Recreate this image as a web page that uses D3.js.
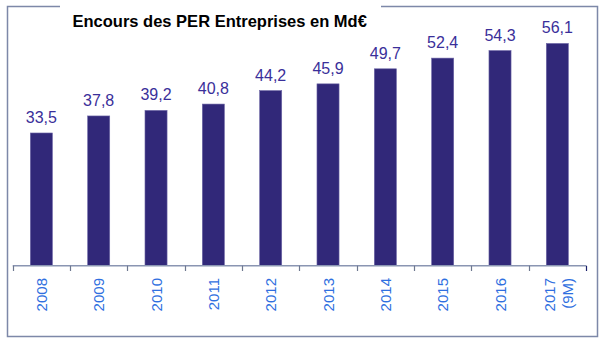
<!DOCTYPE html>
<html><head><meta charset="utf-8">
<script src="https://cdn.jsdelivr.net/npm/d3@7"></script>
<style>body{margin:0;background:#fff}svg{display:block;font-family:"Liberation Sans",Arial,sans-serif}</style>
</head><body>
<svg id="c" width="606" height="345"></svg>
<script>
const categories = ["2008","2009","2010","2011","2012","2013","2014","2015","2016","2017"];
const subLabels = ["","","","","","","","","","(9M)"];
const values = [33.5,37.8,39.2,40.8,44.2,45.9,49.7,52.4,54.3,56.1];
const valueLabels = ["33,5","37,8","39,2","40,8","44,2","45,9","49,7","52,4","54,3","56,1"];
const title = "Encours des PER Entreprises en Md€";

const svg = d3.select("#c");
const frame = {l:7.5, r:597.5, t:6.5, b:336.5};
const frameColor = "#7d88a8";
svg.append("path")
  .attr("d", `M60,${frame.t} H${frame.l} V${frame.b} H${frame.r} V${frame.t} H381`)
  .attr("fill","none").attr("stroke",frameColor).attr("stroke-width",1.5);

svg.append("text").attr("x",72.5).attr("y",27)
  .attr("font-size",16.5).attr("font-weight","bold").attr("fill","#000")
  .text(title);

const x = d3.scaleBand().domain(categories).range([12.7,586]).paddingInner(0.615).paddingOuter(0.3075);
const y = d3.scaleLinear().domain([0,60]).range([265.7, 28]);

svg.selectAll("rect.bar").data(values).enter().append("rect")
  .attr("class","bar")
  .attr("x",(d,i)=>x(categories[i]))
  .attr("width",x.bandwidth())
  .attr("y",d=>y(d))
  .attr("height",d=>y(0)-y(d))
  .attr("fill","#312879")
  .attr("stroke","#6d66a6").attr("stroke-width",0.6);

svg.selectAll("text.val").data(values).enter().append("text")
  .attr("class","val")
  .attr("x",(d,i)=>x(categories[i])+x.bandwidth()/2)
  .attr("y",d=>y(d)-10)
  .attr("text-anchor","middle")
  .attr("font-size",16).attr("fill","#3a2f9a")
  .text((d,i)=>valueLabels[i]);

const band = d3.scalePoint().domain(d3.range(categories.length+1)).range([12.7,586]);
const ax = svg.append("g");
ax.append("line").attr("x1",12.7).attr("x2",586).attr("y1",265.7).attr("y2",265.7)
  .attr("stroke","#8a95b2").attr("stroke-width",1.5);
ax.selectAll("line.tk").data(band.domain()).enter().append("line")
  .attr("class","tk")
  .attr("x1",d=>Math.round(band(d))+0.5).attr("x2",d=>Math.round(band(d))+0.5)
  .attr("y1",265.7).attr("y2",271)
  .attr("stroke",(d,i)=> i===categories.length ? "#1a1f6a" : "#6e7890").attr("stroke-width",1.2);

categories.forEach((c,i)=>{
  const cx = x(c)+x.bandwidth()/2;
  const g = svg.append("g");
  const lab = (dx, t) => g.append("text").attr("transform",`translate(${cx+dx},278) rotate(-90)`)
      .attr("text-anchor","end").attr("font-size",15).attr("fill","#2f6fe0").text(t);
  if(subLabels[i]){
    lab(-2, c);
    lab(16, subLabels[i]);
  } else {
    lab(5.5, c);
  }
});
</script>
</body></html>
